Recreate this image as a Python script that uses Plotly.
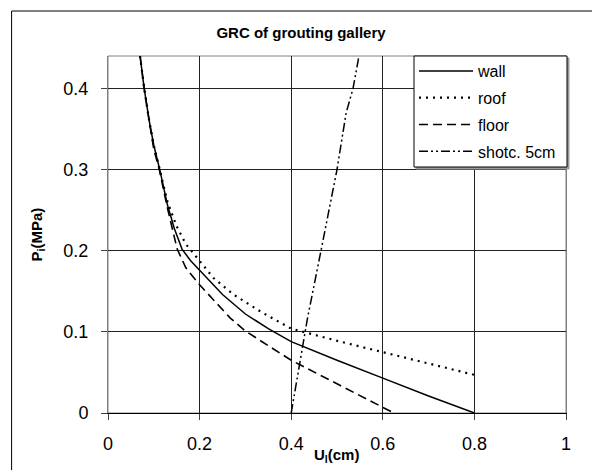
import plotly.graph_objects as go

# ---- data ----
wall_u = [0.070, 0.079, 0.090, 0.100, 0.113, 0.130, 0.145, 0.1616, 0.180, 0.200, 0.250, 0.300, 0.350, 0.400, 0.500, 0.600, 0.700, 0.800]
wall_p = [0.440, 0.400, 0.360, 0.330, 0.300, 0.256, 0.227, 0.202, 0.188, 0.176, 0.146, 0.122, 0.104, 0.088, 0.065, 0.043, 0.021, 0.000]

roof_u = [0.070, 0.079, 0.090, 0.100, 0.113, 0.130, 0.150, 0.170, 0.182, 0.200, 0.231, 0.274, 0.336, 0.400, 0.500, 0.600, 0.700, 0.800]
roof_p = [0.440, 0.400, 0.360, 0.330, 0.300, 0.260, 0.230, 0.208, 0.200, 0.187, 0.166, 0.146, 0.124, 0.104, 0.089, 0.075, 0.061, 0.047]

floor_u = [0.070, 0.079, 0.090, 0.100, 0.112, 0.130, 0.151, 0.170, 0.200, 0.267, 0.300, 0.350, 0.400, 0.500, 0.600, 0.624]
floor_p = [0.440, 0.400, 0.360, 0.325, 0.300, 0.252, 0.202, 0.179, 0.158, 0.117, 0.101, 0.083, 0.065, 0.036, 0.007, 0.000]

shot_u = [0.400, 0.435, 0.465, 0.500, 0.520, 0.535, 0.548]
shot_p = [0.000, 0.115, 0.200, 0.300, 0.370, 0.400, 0.440]

series_names = ["wall", "roof", "floor", "shotc. 5cm"]
x_ticks = [0, 0.2, 0.4, 0.6, 0.8, 1]
x_tick_text = ["0", "0.2", "0.4", "0.6", "0.8", "1"]
y_ticks = [0, 0.1, 0.2, 0.3, 0.4]
y_tick_text = ["0", "0.1", "0.2", "0.3", "0.4"]

FONT = "Liberation Sans, Arial, sans-serif"

# figure geometry (page has an 8px body margin)
W, H = 592, 462
L, R, T, B = 100, 34, 48, 57
PW, PH = W - L - R, H - T - B


def px(fx):
    return (fx - L) / PW


def py(fy):
    return (H - B - fy) / PH


fig = go.Figure()
styles = [
    dict(width=1.5, dash="solid"),
    dict(width=2.2, dash="2px,5px"),
    dict(width=1.6, dash="9px,5px"),
    dict(width=1.5, dash="9px,3px,2px,3px,2px,3px"),
]
data = [(wall_u, wall_p), (roof_u, roof_p), (floor_u, floor_p), (shot_u, shot_p)]
for i, ((u, p), name, st) in enumerate(zip(data, series_names, styles)):
    fig.add_trace(go.Scatter(
        x=u, y=p, mode="lines", name=name, legendgroup=f"g{i}",
        line=dict(color="black", width=st["width"], dash=st["dash"]),
    ))

fig.update_layout(
    width=W, height=H,
    margin=dict(l=L, r=R, t=T, b=B),
    paper_bgcolor="white", plot_bgcolor="white",
    font=dict(family=FONT, color="black"),
    title=dict(text="<b>GRC of grouting gallery</b>", x=(301 - 8) / W, xref="container",
               xanchor="center", y=1 - (33 - 8) / H, yref="container", yanchor="middle",
               font=dict(size=15, family=FONT, color="black")),
    showlegend=True,
    legend=dict(
        x=px(406), y=py(46), xanchor="left", yanchor="top",
        bgcolor="rgba(0,0,0,0)", borderwidth=0,
        font=dict(size=16, family=FONT, color="black"),
        traceorder="grouped", tracegroupgap=3,
        itemwidth=54,
    ),
    xaxis=dict(
        range=[0, 1], tickvals=x_ticks, ticktext=x_tick_text,
        showgrid=True, gridcolor="#222222", gridwidth=1,
        zeroline=False, showline=True, linecolor="black", linewidth=1, mirror=False,
        ticks="outside", ticklen=6, tickcolor="#404040",
        tickfont=dict(size=18, family=FONT, color="black"),
        ticklabelstandoff=8,
    ),
    yaxis=dict(
        range=[0, 0.44], tickvals=y_ticks, ticktext=y_tick_text,
        showgrid=True, gridcolor="#222222", gridwidth=1,
        zeroline=False, showline=True, linecolor="#808080", linewidth=1, mirror=True,
        ticks="outside", ticklen=6, tickcolor="#404040",
        tickfont=dict(size=18, family=FONT, color="black"),
        ticklabelstandoff=9,
    ),
    shapes=[
        dict(type="rect", xref="paper", yref="paper", x0=0, y0=0, x1=1, y1=1,
             line=dict(color="#808080", width=1), layer="below"),
        dict(type="rect", xref="paper", yref="paper",
             x0=px(3.6), y0=py(3), x1=1.3, y1=-0.4,
             line=dict(color="black", width=1), fillcolor="rgba(0,0,0,0)", layer="below"),
        # legend frame shadow and frame
        dict(type="rect", xref="paper", yref="paper",
             x0=px(408), y0=py(161), x1=px(561), y1=py(50),
             line=dict(color="#9a9a9a", width=1), fillcolor="#9a9a9a", layer="above"),
        dict(type="rect", xref="paper", yref="paper",
             x0=px(406), y0=py(159), x1=px(559), y1=py(48),
             line=dict(color="black", width=1), fillcolor="white", layer="above"),
    ],
    annotations=[
        dict(text="<b>U<sub>l</sub>(cm)</b>", xref="paper", yref="paper",
             x=px(328), y=py(447), xanchor="center", yanchor="middle",
             showarrow=False, font=dict(size=15, family=FONT, color="black")),
        dict(text="<b>P<sub>i</sub>(MPa)</b>", xref="paper", yref="paper",
             x=px(29), y=0.5, xanchor="center", yanchor="middle",
             textangle=-90, showarrow=False,
             font=dict(size=15, family=FONT, color="black")),
    ],
)

fig.write_html("out.html")
